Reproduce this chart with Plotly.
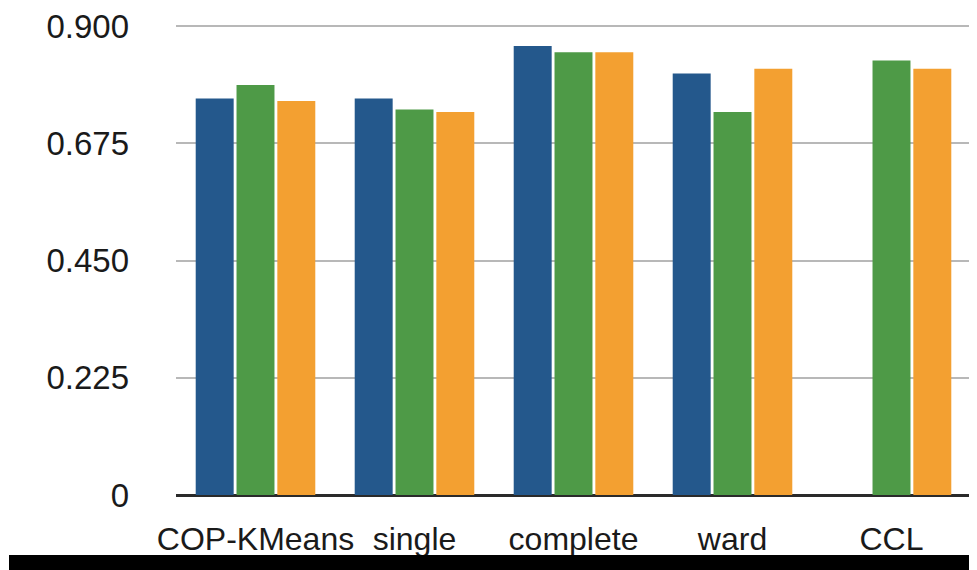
import plotly.graph_objects as go

categories = ["COP-KMeans", "single", "complete", "ward", "CCL"]
series_blue = [0.761, 0.761, 0.862, 0.809, None]
series_green = [0.787, 0.740, 0.850, 0.735, 0.834]
series_orange = [0.756, 0.735, 0.850, 0.818, 0.818]
y_ticks = [0, 0.225, 0.450, 0.675, 0.900]
y_tick_labels = ["0", "0.225", "0.450", "0.675", "0.900"]

colors = ["#24588c", "#4e9a47", "#f3a031"]
names = ["series 1", "series 2", "series 3"]

fig = go.Figure()
for vals, c, n in zip([series_blue, series_green, series_orange], colors, names):
    fig.add_trace(go.Bar(x=categories, y=vals, name=n, marker=dict(color=c, line=dict(width=0))))

OFF = 8  # page body margin in the browser
W, H = 977 - OFF, 570 - OFF
L, R, T, B = 176 - OFF, 6, 24 - OFF, 75
pw, ph = W - L - R, H - T - B
y_bottom = H - B  # local pixel row of the zero line

fig.update_layout(
    width=W, height=H,
    margin=dict(l=L, r=R, t=T, b=B, pad=0, autoexpand=False),
    barmode="group", bargap=0.23, bargroupgap=0.07,
    showlegend=False,
    plot_bgcolor="white", paper_bgcolor="white",
    font=dict(family="Liberation Sans, Arial, sans-serif", size=32, color="#1a1a1a"),
    xaxis=dict(showgrid=False, showline=False, ticks="", ticklabelstandoff=22,
               automargin=False, ticklabeloverflow="allow", tickfont=dict(size=32)),
    yaxis=dict(range=[0, 0.904], tickvals=y_ticks, ticktext=y_tick_labels,
               showgrid=True, gridcolor="#b8b8b8", gridwidth=2,
               zeroline=True, zerolinecolor="#2a2a2a", zerolinewidth=2.5,
               showline=False, ticks="", ticklabelstandoff=46,
               automargin=False, ticklabeloverflow="allow", tickfont=dict(size=33)),
    shapes=[
        dict(type="rect", xref="paper", yref="paper",
             x0=(9 - OFF - L) / pw, x1=1.05,
             y0=(y_bottom - (555 - OFF)) / ph, y1=(y_bottom - (600 - OFF)) / ph,
             fillcolor="black", line=dict(width=0), layer="above"),
    ],
)

fig.write_html("out.html")
